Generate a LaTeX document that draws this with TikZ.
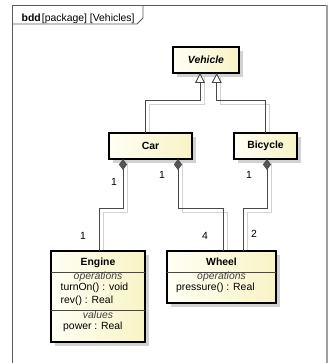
\documentclass[tikz,border=0pt]{standalone}
\usepackage{fontspec}
\setmainfont{Liberation Sans}
\usetikzlibrary{arrows.meta,calc,backgrounds}
\definecolor{boxL}{HTML}{FFFFF4}
\definecolor{boxR}{HTML}{F8F3C6}
\definecolor{lineC}{HTML}{484848}
\definecolor{shadowC}{HTML}{D2D2D2}
\definecolor{frameC}{HTML}{5A5A5A}
\definecolor{diamC}{HTML}{555555}

\begin{document}
\begin{tikzpicture}[x=1pt,y=-1pt,
  font=\fontsize{10.4}{12}\selectfont,
  block/.style={draw=black, line width=1.6pt, left color=boxL, right color=boxR,
    inner sep=0pt, outer sep=0pt},
  boxtitle/.style={font=\fontsize{10.4}{12}\selectfont\bfseries},
  compsep/.style={draw=lineC, line width=0.8pt},
  member/.style={anchor=mid west, inner sep=0pt},
  kind/.style={anchor=mid, inner sep=0pt, font=\fontsize{10.4}{12}\selectfont\itshape, text=black!75},
  gen/.style={draw=lineC, line width=0.9pt, -{Triangle[open, width=10pt, length=10pt, fill=white, line width=0.9pt]}},
  comp/.style={draw=lineC, line width=0.9pt, -{Diamond[width=8pt, length=11pt, fill=diamC, line width=0.6pt]}},
  lineshadow/.style={draw=shadowC, line width=0.9pt, transform canvas={shift={(4,4)}}},
  mult/.style={inner sep=0pt, anchor=mid}
]
\useasboundingbox (0,0) rectangle (328,363);

% diagram frame with its name tab
\draw[frameC, line width=0.9pt] (12.5,380) -- (12.5,5.5) -- (325.5,5.5);
\draw[gray!75, line width=2.5pt] (326.8,5) -- (326.8,370);
\draw[frameC, line width=0.9pt] (12.5,24) -- (137,24) -- (143,18) -- (143,5.5);
\node[anchor=mid west, inner sep=0pt] (frametitle) at (21.5,18.5)
  {\textbf{bdd}\hspace{1.2pt}[package] [Vehicles]};

% blocks
\node[block, minimum width=66, minimum height=26] (vehicle) at (206,60)
  {\bfseries\itshape Vehicle};
\node[block, minimum width=83, minimum height=26] (car) at (150.5,146)
  {\bfseries Car};
\node[block, minimum width=63, minimum height=26] (bicycle) at (265.5,146)
  {\bfseries Bicycle};
\node[block, anchor=north west, minimum width=94, minimum height=91] (engine) at (51,251) {};
\node[block, anchor=north west, minimum width=109, minimum height=52] (wheel) at (167,251) {};

% Engine compartments
\node[boxtitle, anchor=mid] (engT) at ($(engine.north)+(0,11.5)$) {Engine};
\draw[compsep] ($(engine.north west)+(0,21)$) -- ($(engine.north east)+(0,21)$);
\node[kind] (engOps) at ($(engine.north)+(0,25.5)$) {operations};
\node[member] (engOp1) at (60.5,287.5) {turnOn() : void};
\node[member] (engOp2) at (60.5,300.5) {rev() : Real};
\draw[compsep] ($(engine.north west)+(0,59)$) -- ($(engine.north east)+(0,59)$);
\node[kind] (engVals) at ($(engine.north)+(0,65)$) {values};
\node[member] (engVal1) at (63,327) {power : Real};

% Wheel compartments
\node[boxtitle, anchor=mid] (whT) at ($(wheel.north)+(0,11.5)$) {Wheel};
\draw[compsep] ($(wheel.north west)+(0,21)$) -- ($(wheel.north east)+(0,21)$);
\node[kind] (whOps) at ($(wheel.north)+(0,25.5)$) {operations};
\node[member] (whOp1) at (176,287.5) {pressure() : Real};

% drop shadows of blocks and connectors
\begin{scope}[on background layer]
  \foreach \b in {vehicle,car,bicycle,engine,wheel}{
    \fill[shadowC, transform canvas={shift={(4,4)}}] (\b.north west) rectangle (\b.south east);
  }
  \draw[lineshadow] ($(car.north)+(-5.5,0)$) -- ++(0,-33) -| ($(vehicle.south)+(-6,0)$);
  \draw[lineshadow] ($(bicycle.north)+(-0.5,0)$) -- ++(0,-33) -| ($(vehicle.south)+(10.7,0)$);
  \draw[lineshadow] ($(engine.north)+(1,0)$) -- ++(0,-43) -| ($(car.south)+(-27.5,0)$);
  \draw[lineshadow] ($(wheel.north)+(1.5,0)$) -- ++(0,-43) -| ($(car.south)+(27.5,0)$);
  \draw[lineshadow] ($(wheel.north)+(21.5,0)$) -- ++(0,-43) -| ($(bicycle.south)+(1.5,0)$);
\end{scope}

% generalizations
\draw[gen] ($(car.north)+(-5.5,0)$) -- ++(0,-33) -| ($(vehicle.south)+(-6,0)$);
\draw[gen] ($(bicycle.north)+(-0.5,0)$) -- ++(0,-33) -| ($(vehicle.south)+(10.7,0)$);

% compositions
\draw[comp] ($(engine.north)+(1,0)$) -- ++(0,-43) -| ($(car.south)+(-27.5,0)$);
\draw[comp] ($(wheel.north)+(1.5,0)$) -- ++(0,-43) -| ($(car.south)+(27.5,0)$);
\draw[comp] ($(wheel.north)+(21.5,0)$) -- ++(0,-43) -| ($(bicycle.south)+(1.5,0)$);

% multiplicities
\node[mult] (m1) at (114,183) {1};
\node[mult] (m2) at (162,176) {1};
\node[mult] (m3) at (249,176) {1};
\node[mult] (m4) at (83,237) {1};
\node[mult] (m5) at (205,237) {4};
\node[mult] (m6) at (254,235) {2};
\end{tikzpicture}
\end{document}
